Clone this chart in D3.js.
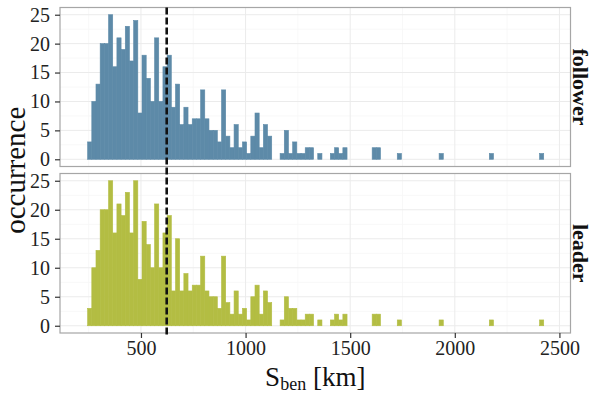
<!DOCTYPE html>
<html>
<head>
<meta charset="utf-8">
<script src="https://cdn.jsdelivr.net/npm/d3@7"></script>
<style>
  body { margin: 0; background: #fff; }
  text { font-family: "Liberation Serif", "Times New Roman", serif; }
</style>
</head>
<body>
<div id="chart"></div>
<script>
// histogram bins: 20 km wide, first bin starts at 245 km
const binStart = 245;
const binWidth = 20;

// counts per bin
const follower = [
  3,10,13,20,20,25,16,21,19,23,
  17,24,8,18,14,10,21,10,16,18,
  9,13,6,9,6,7,7,12,7,5,
  5,3,12,4,2,6,2,3,1,4,
  8,2,6,4,0,0,1,5,1,3,
  1,1,2,2,0,1,0,0,1,2,
  1,2,0,0,0,0,0,0,2,2,
  0,0,0,0,1,0,0,0,0,0,
  0,0,0,0,1,0,0,0,0,0,
  0,0,0,0,0,0,1,0,0,0,
  0,0,0,0,0,0,0,0,1
];
const leader = [
  3,10,13,20,20,25,16,21,19,23,
  16,25,8,18,14,10,21,10,16,19,
  6,15,6,9,6,7,7,12,6,5,
  5,3,12,4,2,6,2,3,1,5,
  7,2,6,4,0,0,1,5,3,3,
  1,1,2,2,0,1,0,0,1,2,
  1,2,0,0,0,0,0,0,2,2,
  0,0,0,0,1,0,0,0,0,0,
  0,0,0,0,1,0,0,0,0,0,
  0,0,0,0,0,0,1,0,0,0,
  0,0,0,0,0,0,0,0,1
];

const meanDist = 623;            // dashed line
const xTicks = [500, 1000, 1500, 2000, 2500];
const xMinor = [250, 750, 1250, 1750, 2250];
const yTicks = [0, 5, 10, 15, 20, 25];
const yMinor = [2.5, 7.5, 12.5, 17.5, 22.5];

const W = 591, H = 394;
const left = 60, right = 570.5;

const panels = [
  {name: 'follower', counts: follower, color: '#5d8aa8', top: 7.5, bottom: 166.5},
  {name: 'leader',   counts: leader,   color: '#b3bd43', top: 173.5, bottom: 333}
];

const svg = d3.select('#chart').append('svg')
  .attr('width', W)
  .attr('height', H);

let x = d3.scaleLinear()
  .domain([113, 2553])
  .range([left, right]);

panels.forEach(function(p, pi) {
  let y = d3.scaleLinear()
    .domain([-1.25, 26.25])
    .range([p.bottom, p.top]);

  const g = svg.append('g').attr('class', 'panel-' + p.name);

  // minor grid
  g.selectAll('.yminor').data(yMinor).enter().append('line')
    .attr('x1', left).attr('x2', right)
    .attr('y1', d => y(d)).attr('y2', d => y(d))
    .attr('stroke', '#f6f6f6').attr('stroke-width', 0.8);
  g.selectAll('.xminor').data(xMinor).enter().append('line')
    .attr('x1', d => x(d)).attr('x2', d => x(d))
    .attr('y1', p.top).attr('y2', p.bottom)
    .attr('stroke', '#f6f6f6').attr('stroke-width', 0.8);

  // major grid
  g.selectAll('.ymajor').data(yTicks).enter().append('line')
    .attr('x1', left).attr('x2', right)
    .attr('y1', d => y(d)).attr('y2', d => y(d))
    .attr('stroke', '#ebebeb').attr('stroke-width', 1);
  g.selectAll('.xmajor').data(xTicks).enter().append('line')
    .attr('x1', d => x(d)).attr('x2', d => x(d))
    .attr('y1', p.top).attr('y2', p.bottom)
    .attr('stroke', '#ebebeb').attr('stroke-width', 1);

  // bars (thin stroke in the fill colour hides the seams between bins)
  const bins = p.counts.map((c, i) => ({x0: binStart + i * binWidth, x1: binStart + (i + 1) * binWidth, n: c}))
    .filter(b => b.n > 0);
  g.append('g').selectAll('rect').data(bins).enter().append('rect')
    .attr('x', d => x(d.x0))
    .attr('width', d => x(d.x1) - x(d.x0))
    .attr('y', d => y(d.n))
    .attr('height', d => y(0) - y(d.n))
    .attr('fill', p.color)
    .attr('stroke', p.color)
    .attr('stroke-width', 0.6);

  // border
  g.append('rect')
    .attr('x', left).attr('y', p.top)
    .attr('width', right - left).attr('height', p.bottom - p.top)
    .attr('fill', 'none').attr('stroke', '#a6a6a6').attr('stroke-width', 1.2);

  // y axis
  const yAxis = g.append('g')
    .attr('transform', 'translate(' + left + ',0)')
    .call(d3.axisLeft(y).tickValues(yTicks).tickSize(5).tickPadding(5));
  yAxis.select('.domain').remove();
  yAxis.selectAll('line').attr('stroke', '#333').attr('stroke-width', 1.2);
  yAxis.selectAll('text').attr('font-size', 20).attr('fill', '#222')
    .attr('font-family', '"Liberation Serif", serif');

  // strip label
  g.append('text')
    .attr('transform', 'translate(' + 572.5 + ',' + ((p.top + p.bottom) / 2) + ') rotate(90)')
    .attr('text-anchor', 'middle')
    .attr('font-size', 22)
    .attr('font-weight', 'bold')
    .attr('fill', '#111')
    .text(p.name);

  if (pi === panels.length - 1) {
    const xAxis = g.append('g')
      .attr('transform', 'translate(0,' + p.bottom + ')')
      .call(d3.axisBottom(x).tickValues(xTicks).tickFormat(d3.format('d')).tickSize(5).tickPadding(3));
    xAxis.select('.domain').remove();
    xAxis.selectAll('line').attr('stroke', '#333').attr('stroke-width', 1.2);
    xAxis.selectAll('text').attr('font-size', 20).attr('fill', '#222')
      .attr('font-family', '"Liberation Serif", serif');
  }
});

// dashed mean line across both panels
svg.append('line')
  .attr('x1', x(meanDist)).attr('x2', x(meanDist))
  .attr('y1', panels[0].top).attr('y2', panels[1].bottom + 3)
  .attr('stroke', '#111')
  .attr('stroke-width', 2.6)
  .attr('stroke-dasharray', '7,3');

// axis titles
const xt = svg.append('text')
  .attr('x', (left + right) / 2)
  .attr('y', 386)
  .attr('text-anchor', 'middle')
  .attr('font-size', 27)
  .attr('fill', '#111');
xt.append('tspan').text('S');
xt.append('tspan').attr('font-size', 18).attr('dy', 4).text('ben');
xt.append('tspan').attr('dy', -4).text(' [km]');

svg.append('text')
  .attr('transform', 'translate(25,' + ((panels[0].top + panels[1].bottom) / 2) + ') rotate(-90)')
  .attr('text-anchor', 'middle')
  .attr('font-size', 29)
  .attr('fill', '#111')
  .text('occurrence');
</script>
</body>
</html>
